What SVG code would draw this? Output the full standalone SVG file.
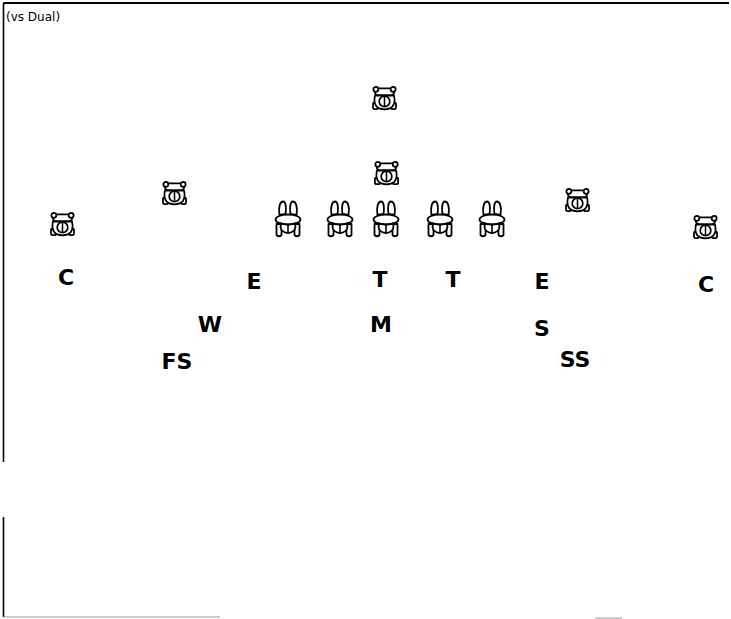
<svg xmlns="http://www.w3.org/2000/svg" width="731" height="619" viewBox="0 0 731 619">
  <style>
    .lbl { font-family: "DejaVu Sans", Verdana, sans-serif; font-weight: bold; font-size: 22px; fill: #000; text-anchor: middle; }
    .cap { font-family: "DejaVu Sans", Verdana, sans-serif; font-size: 12px; fill: #000; }
    .ink { fill: #fff; stroke: #000; stroke-width: 1.8; stroke-linejoin: round; stroke-linecap: round; }
    .line { fill: none; stroke: #000; stroke-width: 1.6; stroke-linecap: round; }
    .qb .ink, .qb .line { stroke: #222; stroke-dasharray: 2.5 1; }
  </style>
  <defs>
    <!-- defender / back seen from behind: head band, round body, feet -->
    <symbol id="back" viewBox="0 0 30 26" overflow="visible">
      <rect class="ink" x="3" y="17" width="5.5" height="7" rx="1.8"/>
      <rect class="ink" x="21.5" y="17" width="5.5" height="7" rx="1.8"/>
      <path class="ink" d="M5,10 Q3,20 9,23 Q15,25.5 21,23 Q27,20 25,10 Z"/>
      <rect class="ink" x="5" y="2.5" width="20" height="7" rx="3.2"/>
      <circle class="ink" cx="6" cy="3.5" r="2.6"/>
      <circle class="ink" cx="24" cy="3.5" r="2.6"/>
      <circle class="ink" cx="15" cy="16" r="5.5"/>
      <path class="line" d="M15,11 V21"/>
    </symbol>
    <!-- lineman in stance: ears up, bar, legs -->
    <symbol id="lineman" viewBox="0 0 28 38" overflow="visible">
      <path class="ink" d="M5.5,15 C4,6 6.5,1.5 9,1.5 C12,1.5 12.5,8 11.5,14 Z"/>
      <path class="ink" d="M22.5,15 C24,6 21.5,1.5 19,1.5 C16,1.5 15.5,8 16.5,14 Z"/>
      <path class="ink" d="M2.5,24 V35 Q5,37.5 7.5,35 V24 Z"/>
      <path class="ink" d="M20.5,24 V35 Q23,37.5 25.5,35 V24 Z"/>
      <ellipse class="ink" cx="14" cy="26.5" rx="7.5" ry="6.5"/>
      <path class="line" d="M14,21 V33"/>
      <ellipse class="ink" cx="14" cy="19.5" rx="12.5" ry="5"/>
      <path class="line" d="M6,23 Q14,26 22,23"/>
    </symbol>
  </defs>

  <!-- frame -->
  <g id="frame">
    <path d="M3.5,3 H729" fill="none" stroke="#000" stroke-width="2"/>
    <path d="M3.5,3 V462 M3.5,517 V617" fill="none" stroke="#000" stroke-width="1.6"/>
    <path d="M3.5,617 H220" fill="none" stroke="#999" stroke-width="1"/>
    <path d="M595,618 H622" fill="none" stroke="#999" stroke-width="1"/>
  </g>

  <text class="cap" x="6" y="21">(vs Dual)</text>

  <!-- offense -->
  <g id="offense">
    <g id="p-deep"><use href="#back" x="370" y="86" width="29" height="25"/></g>
    <g id="p-qb" class="qb"><use href="#back" x="372" y="160" width="29" height="27"/></g>
    <g id="p-wing-left"><use href="#back" x="160" y="181" width="29" height="25"/></g>
    <g id="p-wing-right"><use href="#back" x="563" y="188" width="29" height="25"/></g>
    <g id="p-wide-left"><use href="#back" x="48" y="212" width="29" height="25"/></g>
    <g id="p-wide-right"><use href="#back" x="691" y="215" width="29" height="25"/></g>
    <g id="ol-1"><use href="#lineman" x="274" y="200" width="28" height="38"/></g>
    <g id="ol-2"><use href="#lineman" x="326" y="200" width="28" height="38"/></g>
    <g id="ol-3"><use href="#lineman" x="372" y="200" width="28" height="38"/></g>
    <g id="ol-4"><use href="#lineman" x="426" y="200" width="28" height="38"/></g>
    <g id="ol-5"><use href="#lineman" x="478" y="200" width="28" height="38"/></g>
  </g>

  <!-- defense -->
  <g id="defense">
    <g id="d-c-left"><text class="lbl" x="66" y="285">C</text></g>
    <g id="d-e-left"><text class="lbl" x="254" y="289">E</text></g>
    <g id="d-t-left"><text class="lbl" x="380" y="287">T</text></g>
    <g id="d-t-right"><text class="lbl" x="453" y="287">T</text></g>
    <g id="d-e-right"><text class="lbl" x="542" y="289">E</text></g>
    <g id="d-c-right"><text class="lbl" x="706" y="292">C</text></g>
    <g id="d-w"><text class="lbl" x="210" y="332">W</text></g>
    <g id="d-m"><text class="lbl" x="381" y="332">M</text></g>
    <g id="d-s"><text class="lbl" x="542" y="336">S</text></g>
    <g id="d-fs"><text class="lbl" x="177" y="369">FS</text></g>
    <g id="d-ss"><text class="lbl" x="575" y="367">SS</text></g>
  </g>

  <g id="connectors"/>
</svg>
